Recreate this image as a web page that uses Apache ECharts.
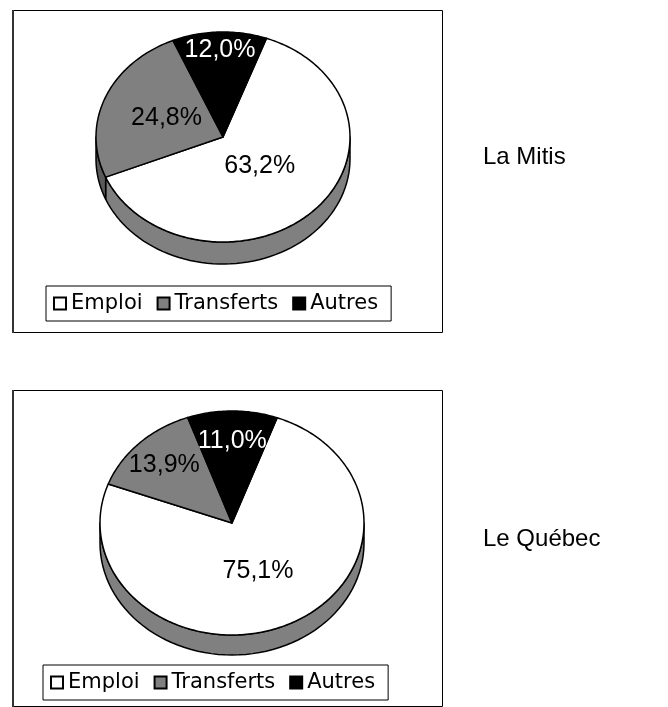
<!DOCTYPE html>
<html>
<head>
<meta charset="utf-8">
<script src="https://cdn.jsdelivr.net/npm/echarts@6/dist/echarts.min.js"></script>
<style>
html, body { margin: 0; padding: 0; background: #fff; }
#main { width: 668px; height: 707px; }
</style>
</head>
<body>
<div id="main"></div>
<script>
// data
var categories = ['Emploi', 'Transferts', 'Autres'];
var mitisValues = [63.2, 24.8, 12.0];
var quebecValues = [75.1, 13.9, 11.0];
var regionNames = ['La Mitis', 'Le Québec'];

var sliceColors = ['#ffffff', '#808080', '#000000'];
var sideColors = ['#808080', '#5a5a5a', '#000000'];
var labelColors = ['#000000', '#000000', '#ffffff'];

// layout of the two tilted pies (pixels), start = first slice angle, clockwise from 12 o'clock
var pies = [
  { values: mitisValues, cx: 223, cy: 137, rx: 127, ry: 105, depth: 22, start: 20,
    labelR: [0.4, 0.48, 0.83], frame: [12, 10, 430, 322], legendLeft: 46, legendTop: 286,
    nameTop: 145 },
  { values: quebecValues, cx: 232, cy: 523, rx: 132, ry: 112, depth: 20, start: 20,
    labelR: [0.47, 0.73, 0.73], frame: [12, 390, 430, 316], legendLeft: 43, legendTop: 665,
    nameTop: 527 }
];

function fmt (v) {
  return v.toFixed(1).replace('.', ',') + '%';
}

// point on the top ellipse (f = fraction of radius, dy = push down for the side)
function pt (p, deg, f, dy) {
  var t = deg * Math.PI / 180;
  return [p.cx + p.rx * f * Math.sin(t), p.cy - p.ry * f * Math.cos(t) + dy];
}

function makeRender (p, i) {
  return function (params, api) {
    var total = 0, before = 0;
    p.values.forEach(function (v, k) {
      total += v;
      if (k < i) before += v;
    });
    var a = p.start + 360 * before / total;
    var b = a + 360 * api.value(0) / total;
    var children = [];
    var lineStyle = { stroke: '#000', lineWidth: 1.5, lineJoin: 'round' };

    // side band, only the part of the slice facing us (90..270 deg)
    [[90, 270], [450, 630]].forEach(function (r) {
      var s = Math.max(a, r[0]), e = Math.min(b, r[1]);
      if (e <= s) return;
      var pts = [], n = 60, j;
      for (j = 0; j <= n; j++) pts.push(pt(p, s + (e - s) * j / n, 1, 0));
      for (j = n; j >= 0; j--) pts.push(pt(p, s + (e - s) * j / n, 1, p.depth));
      children.push({
        type: 'polygon', shape: { points: pts },
        style: Object.assign({ fill: sideColors[i] }, lineStyle)
      });
    });

    // top face
    var top = [[p.cx, p.cy]];
    var m = Math.max(8, Math.ceil(b - a));
    for (var j = 0; j <= m; j++) top.push(pt(p, a + (b - a) * j / m, 1, 0));
    children.push({
      type: 'polygon', shape: { points: top },
      style: Object.assign({ fill: sliceColors[i] }, lineStyle)
    });

    // value label
    var c = pt(p, (a + b) / 2, p.labelR[i], 0);
    children.push({
      type: 'text', x: c[0], y: c[1], z2: 100,
      style: {
        text: fmt(api.value(0)), fill: labelColors[i],
        fontSize: 25, fontFamily: '"Liberation Sans", Arial, sans-serif',
        align: 'center', verticalAlign: 'middle'
      }
    });
    return { type: 'group', children: children };
  };
}

var series = [];
pies.forEach(function (p) {
  categories.forEach(function (name, i) {
    series.push({
      type: 'custom',
      name: name,
      coordinateSystem: 'none',
      animation: false,
      silent: true,
      itemStyle: { color: sliceColors[i] },
      data: [[p.values[i]]],
      renderItem: makeRender(p, i)
    });
  });
});

var option = {
  backgroundColor: '#fff',
  animation: false,
  title: pies.map(function (p, k) {
    return {
      text: regionNames[k], left: 483, top: p.nameTop, padding: 0,
      textStyle: { fontSize: 24, fontWeight: 'normal', color: '#000', fontFamily: '"Liberation Sans", Arial, sans-serif' }
    };
  }),
  legend: pies.map(function (p) {
    return {
      data: categories.map(function (name, i) {
        return { name: name, itemStyle: { color: sliceColors[i], borderColor: '#000', borderWidth: 2 } };
      }),
      left: p.legendLeft,
      top: p.legendTop,
      orient: 'horizontal',
      icon: 'rect',
      itemWidth: 12,
      itemHeight: 12,
      itemGap: 14,
      padding: [7, 13, 7, 7],
      borderColor: '#000',
      borderWidth: 1,
      selectedMode: false,
      textStyle: { fontSize: 21, color: '#000', fontFamily: '"DejaVu Sans", Verdana, sans-serif' }
    };
  }),
  graphic: pies.map(function (p) {
    return {
      type: 'group', silent: true,
      children: [
        {
          type: 'rect',
          shape: { x: p.frame[0] + 0.5, y: p.frame[1] + 0.5, width: p.frame[2], height: p.frame[3] },
          style: { fill: null, stroke: '#000', lineWidth: 1 }
        },
        {
          // the left edge of the frame is drawn heavier
          type: 'line',
          shape: { x1: p.frame[0] + 1, y1: p.frame[1], x2: p.frame[0] + 1, y2: p.frame[1] + p.frame[3] + 1 },
          style: { stroke: '#333', lineWidth: 2 }
        }
      ]
    };
  }),
  series: series
};

var chart = echarts.init(document.getElementById('main'));
chart.setOption(option);
</script>
</body>
</html>
